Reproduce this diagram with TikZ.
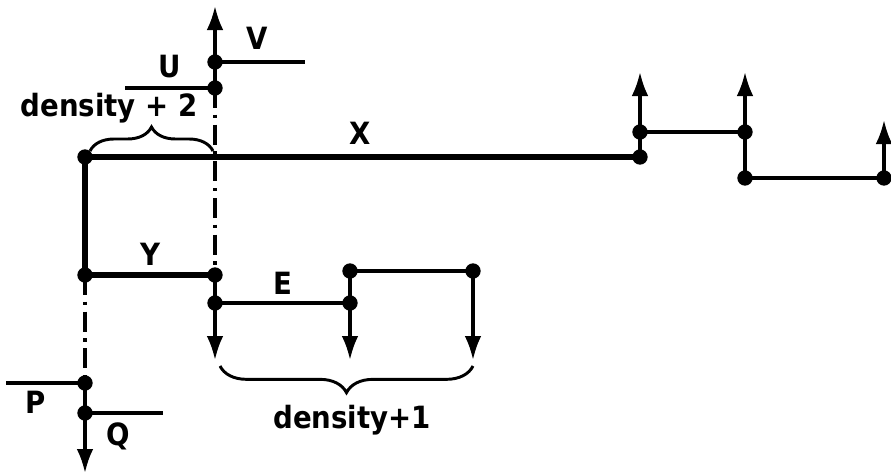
\documentclass[tikz,border=0pt]{standalone}
\usepackage{fontspec}
\setmainfont{DejaVu Sans}
\newfontfamily\lblfont{DejaVu Sans Condensed}
\usetikzlibrary{arrows.meta,decorations.pathreplacing}
\begin{document}
\begin{tikzpicture}[x=0.75pt,y=-0.75pt,
  dot/.style={circle,fill,inner sep=0pt,minimum size=11.5pt},
  thinline/.style={line width=2.4pt},
  thickline/.style={line width=4pt},
  arr/.style={line width=2.4pt,-{Latex[length=18pt,width=12.5pt]}},
  dashdot/.style={line width=2.4pt,dash pattern=on 15pt off 5pt on 2.5pt off 5pt},
  bracestyle/.style={line width=2.2pt,decorate},
  lbl/.style={font=\lblfont\bfseries\fontsize{23}{27}\selectfont,inner sep=0pt}]
\useasboundingbox (0,0) rectangle (891,475);
% upper U/V column
\node[dot] (v) at (215,62) {};
\node[dot] (u) at (215,88) {};
\coordinate (vtop) at (215,6);
\coordinate (uL) at (125,88);
\coordinate (vR) at (305,62);
\draw[thinline] (uL) -- (u.center);
\draw[thinline] (v.center) -- (vR);
\draw[arr] (u.center) -- (vtop);
% X line
\node[dot] (xl) at (85,157) {};
\node[dot] (xr) at (640,157) {};
\draw[thickline] (xl.center) -- (xr.center);
% Y
\node[dot] (yl) at (85,275) {};
\node[dot] (yr) at (215,275) {};
\draw[thickline] (xl.center) -- (yl.center) -- (yr.center);
\draw[dashdot] (u.center) -- (yr.center);
% E group
\node[dot] (e1) at (215,303) {};
\node[dot] (e2) at (350,303) {};
\node[dot] (t1) at (350,271) {};
\node[dot] (t2) at (473,271) {};
\coordinate (a1) at (215,360);
\coordinate (a2) at (350,360);
\coordinate (a3) at (473,360);
\draw[thinline] (yr.center) -- (e1.center);
\draw[thinline] (e1.center) -- (e2.center);
\draw[thinline] (t1.center) -- (t2.center);
\draw[arr] (e1.center) -- (a1);
\draw[arr] (t1.center) -- (a2);
\draw[arr] (t2.center) -- (a3);
% P/Q column
\node[dot] (p) at (85,383) {};
\node[dot] (q) at (85,413) {};
\coordinate (pL) at (6,383);
\coordinate (qR) at (163,413);
\coordinate (bot) at (85,473);
\draw[dashdot] (yl.center) -- (p.center);
\draw[thinline] (pL) -- (p.center);
\draw[thinline] (q.center) -- (qR);
\draw[arr] (p.center) -- (bot);
% right part
\node[dot] (r1) at (640,132) {};
\node[dot] (r2) at (745,132) {};
\node[dot] (r3) at (745,178) {};
\node[dot] (r4) at (884,178) {};
\coordinate (r1top) at (640,72);
\coordinate (r2top) at (745,72);
\coordinate (r4top) at (884,120);
\draw[arr] (xr.center) -- (r1top);
\draw[thinline] (r1.center) -- (r2.center);
\draw[arr] (r3.center) -- (r2top);
\draw[thinline] (r3.center) -- (r4.center);
\draw[arr] (r4.center) -- (r4top);
% braces
\coordinate (b1a) at (90,151);
\coordinate (b1b) at (213,151);
\draw[bracestyle,decoration={brace,amplitude=18pt}] (b1a) -- (b1b);
\coordinate (b2a) at (220,366);
\coordinate (b2b) at (473,366);
\draw[bracestyle,decoration={brace,mirror,amplitude=20pt}] (b2a) -- (b2b);
% labels
\node[lbl] (lv) at (257,38) {V};
\node[lbl] (lu) at (170,67) {U};
\node[lbl] (ld2) at (109,108) {density + 2};
\node[lbl] (lx) at (360,133) {X};
\node[lbl] (ly) at (150,254) {Y};
\node[lbl] (le) at (283,283) {E};
\node[lbl] (lp) at (36,402) {P};
\node[lbl] (lq) at (118,436) {Q};
\node[lbl] (ld1) at (352,420) {density+1};
\end{tikzpicture}
\end{document}
